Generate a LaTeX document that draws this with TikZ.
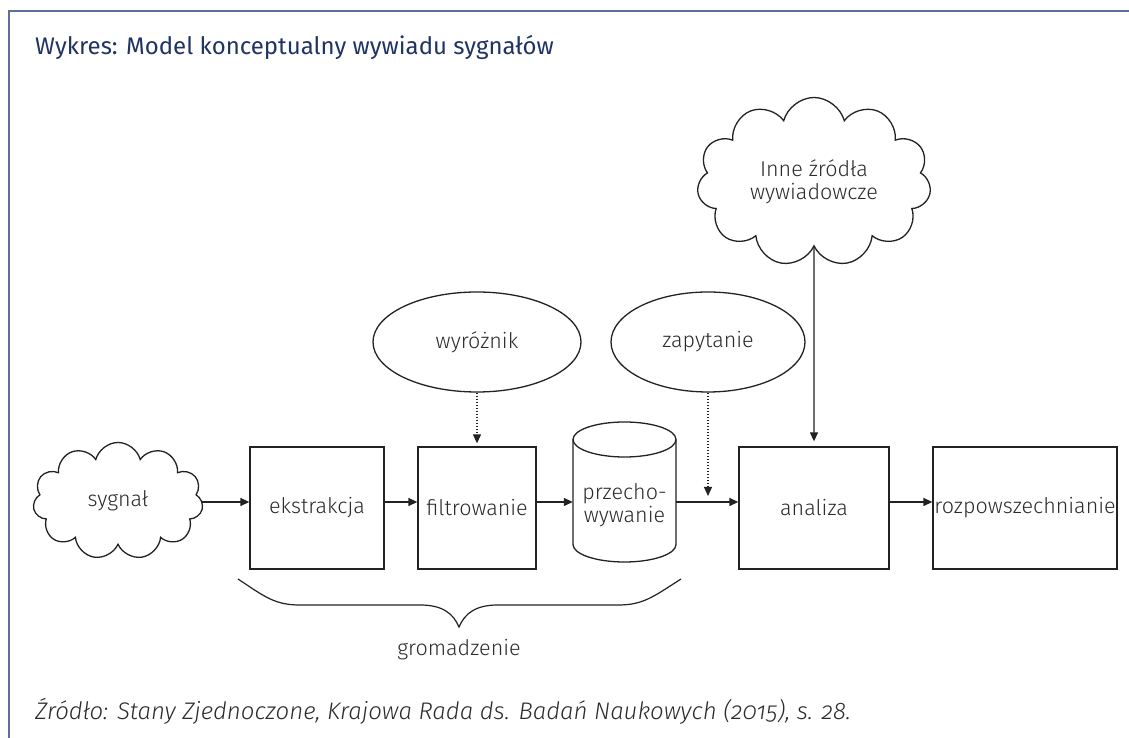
\documentclass[tikz,border=0pt]{standalone}
\usepackage{fontspec}
\setmainfont{Fira Sans}
\newfontfamily\lightfont{Fira Sans}[UprightFont=* Light, ItalicFont=* Light Italic]
\newfontfamily\capfont{Fira Sans}[UprightFont=* Light, ItalicFont=* Light Italic, Numbers=OldStyle]
\usetikzlibrary{shapes.symbols,shapes.geometric,arrows.meta}
\definecolor{framec}{HTML}{5F6E96}
\definecolor{titlec}{HTML}{1F3463}
\definecolor{linec}{HTML}{222222}
\definecolor{textc}{HTML}{2B2B2B}
\tikzset{
  lbl/.style={text=textc, font=\lightfont\fontsize{21.5}{23}\selectfont},
  procbox/.style={lbl, draw=linec, line width=1.3pt, rectangle, minimum height=122pt, inner sep=0pt},
  oval/.style={lbl, draw=linec, line width=1.3pt, ellipse, minimum height=100pt, inner sep=0pt},
  puff/.style={lbl, draw=linec, line width=1.3pt, cloud, cloud puffs=11, cloud ignores aspect, inner sep=0pt, align=center},
  arr/.style={draw=linec, line width=1.3pt, -{Triangle[length=9pt,width=8pt]}},
  dotarr/.style={arr, line width=1.1pt, dash pattern=on 1.6pt off 1.4pt},
  frameline/.style={draw=framec, line width=2pt},
}
\begin{document}
\begin{tikzpicture}[x=1pt,y=1pt]
\useasboundingbox (0,0) rectangle (1129,738);
% frame
\coordinate (fc) at (9,727);
\coordinate (fr) at (1129,727);
\coordinate (fb) at (9,0);
\draw[frameline] (fr) -- (fc) -- (fb);
% title
\node[anchor=base west, inner sep=0pt, text=titlec, font=\fontsize{24}{30}\selectfont] (title) at (35,683) {Wykres: Model konceptualny wywiadu sygnałów};
% nodes
\node[puff, minimum width=170pt, minimum height=117pt] (syg) at (118,237) {sygnał};
\node[procbox, minimum width=134pt] (ekst) at (317,230) {ekstrakcja};
\node[procbox, minimum width=118pt] (filt) at (477,230) {filtrowanie};
\node[lbl, align=center, minimum width=103pt, inner sep=0pt] (prz) at (624.5,233) {przecho-\\wywanie};
\node[procbox, minimum width=150pt] (anal) at (814,230) {analiza};
\node[procbox, minimum width=184pt] (rozp) at (1025,230) {rozpowszechnianie};
\node[oval, minimum width=208pt] (wyr) at (477,396) {wyróżnik};
\node[oval, minimum width=194pt] (zap) at (708,396) {zapytanie};
\node[puff, minimum width=234pt, minimum height=169pt] (inne) at (814,556) {Inne źródła\\wywiadowcze};
% cylinder outline
\draw[draw=linec, line width=1.3pt] (573,298.5) -- (573,193.5) arc[start angle=180, end angle=360, x radius=51.5, y radius=17.5] -- (676,298.5);
\draw[draw=linec, line width=1.3pt] (624.5,298.5) ellipse [x radius=51.5, y radius=17.5];
% connectors
\coordinate (ml) at (0,236);
\draw[arr] (syg.east |- ml) -- (ekst.west |- ml);
\draw[arr] (ekst.east |- ml) -- (filt.west |- ml);
\draw[arr] (filt.east |- ml) -- (prz.west |- ml);
\draw[arr] (prz.east |- ml) -- (anal.west |- ml);
\draw[arr] (anal.east |- ml) -- (rozp.west |- ml);
\draw[dotarr, shorten >=3pt] (wyr.south) -- (filt.north);
\coordinate (zend) at (708,242);
\draw[dotarr] (zap.south) -- (zend);
\draw[arr, shorten >=5pt] (inne.south) -- (anal.north);
% brace
\draw[draw=linec, line width=1.2pt] (238,159) .. controls (265,141) and (275,133) .. (300,133) -- (420,133)
  .. controls (442,133) and (453,125) .. (459,111)
  .. controls (465,125) and (476,133) .. (498,133) -- (618,133)
  .. controls (643,133) and (653,141) .. (681,159);
\node[lbl] (grom) at (459,88) {gromadzenie};
% caption
\node[anchor=base west, inner sep=0pt, text=textc, font=\capfont\itshape\fontsize{24}{26}\selectfont] (src) at (35,18) {Źródło: Stany Zjednoczone, Krajowa Rada ds. Badań Naukowych (2015), s. 28.};
\end{tikzpicture}
\end{document}
